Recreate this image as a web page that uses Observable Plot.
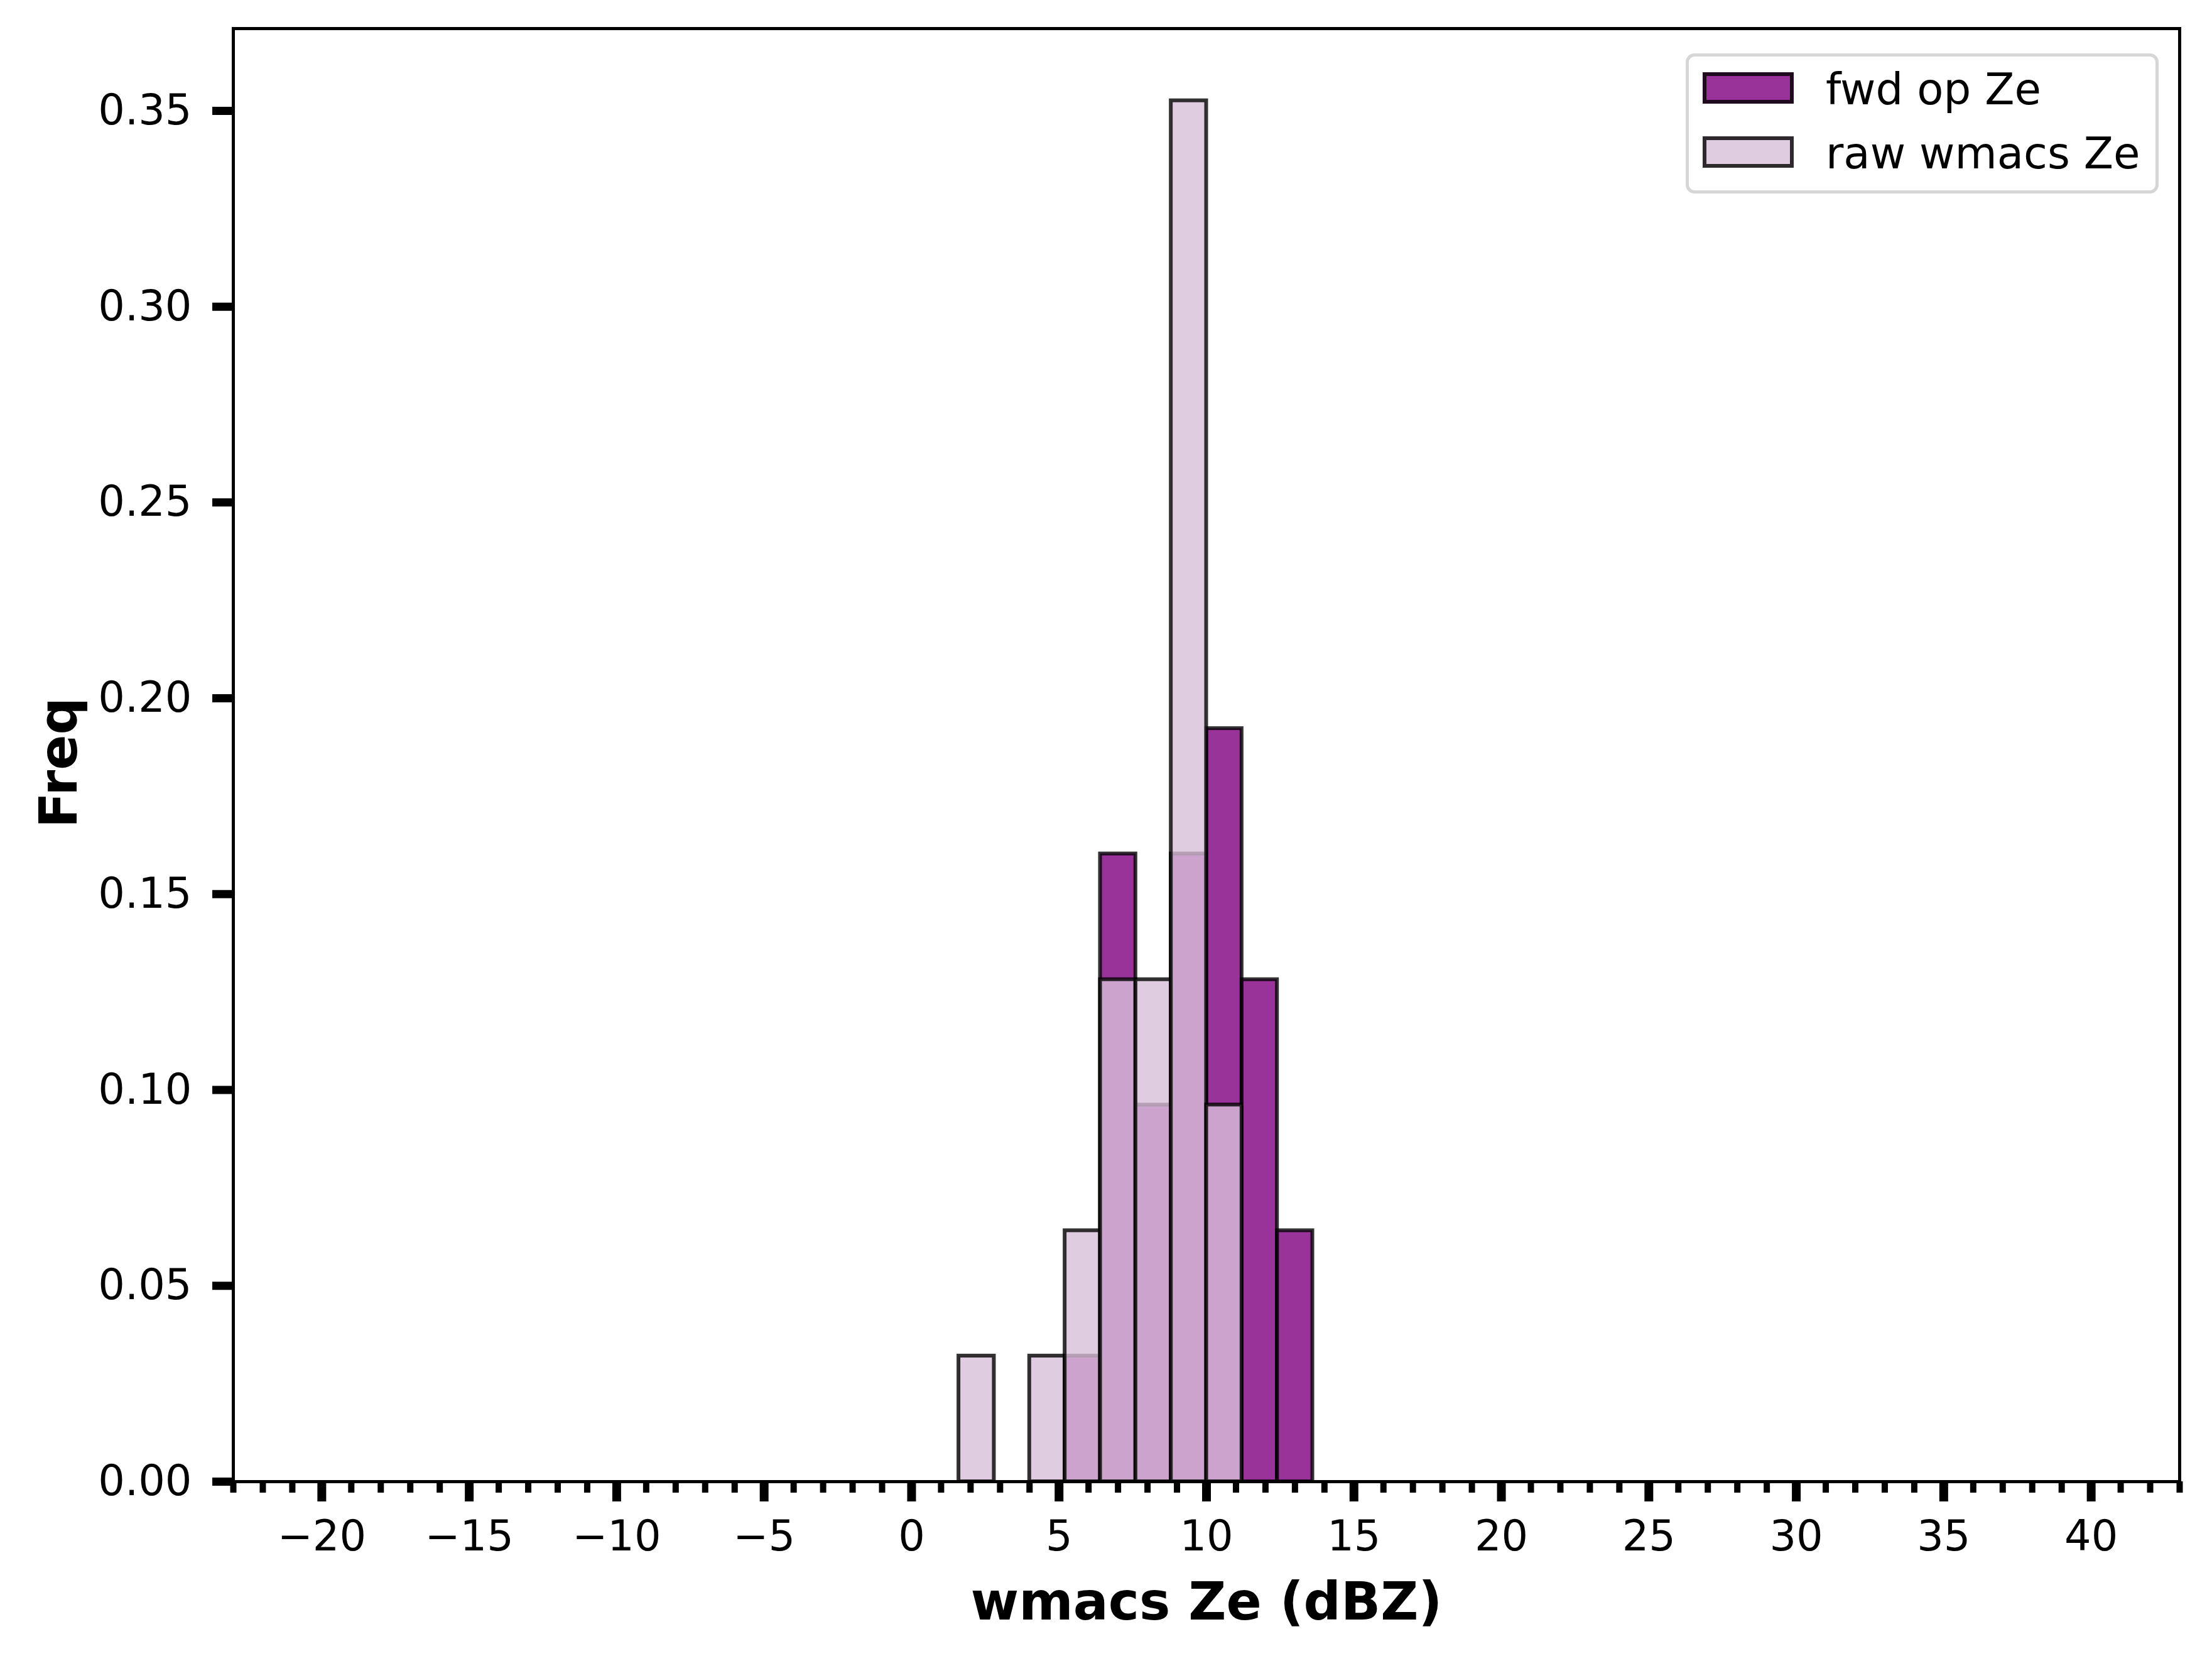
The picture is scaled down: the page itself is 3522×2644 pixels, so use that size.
<!DOCTYPE html>
<html>
<head>
<meta charset="utf-8">
<script src="https://cdn.jsdelivr.net/npm/d3@7"></script>
<script src="https://cdn.jsdelivr.net/npm/@observablehq/plot@0.6"></script>
<style>
  html, body { margin: 0; padding: 0; background: #fff; }
  #wrap { position: relative; width: 3522px; height: 2644px; font-family: "DejaVu Sans", sans-serif; }
  #legend { position: absolute; left: 2684px; top: 85px; width: 753px; height: 223px; box-sizing: border-box;
            border: 5px solid #d6d6d6; border-radius: 14px; background: rgba(255,255,255,0.8); }
  .sw { position: absolute; left: 22px; width: 145px; height: 50px; box-sizing: border-box; border: 6px solid rgba(0,0,0,0.8); }
  .lt { position: absolute; left: 218px; font-size: 69px; line-height: 80px; color: #000; white-space: nowrap; }
</style>
</head>
<body>
<div id="wrap"><div id="chart"></div><div id="legend"></div></div>
<script>
// Histogram bin edges (dBZ) and densities
const binEdges = [1.6, 2.8, 4.0, 5.2, 6.4, 7.6, 8.8, 10.0, 11.2, 12.4, 13.6];
const fwdDensity = [0, 0, 0, 0.0321, 0.1603, 0.0962, 0.1603, 0.1923, 0.1282, 0.0641];
const rawDensity = [0.0321, 0, 0.0321, 0.0641, 0.1282, 0.1282, 0.3526, 0.0962, 0, 0];
const seriesNames = ["fwd op Ze", "raw wmacs Ze"];
const seriesFill = ["purple", "thistle"];
const xMajorTicks = d3.range(-20, 41, 5);
const xMinorTicks = d3.range(-23, 44, 1);
const yTicks = [0, 0.05, 0.10, 0.15, 0.20, 0.25, 0.30, 0.35];

function bins(dens) {
  return dens.map((d, i) => ({x1: binEdges[i], x2: binEdges[i + 1], y: d})).filter(d => d.y > 0);
}

const barStyle = {stroke: "black", strokeOpacity: 0.8, strokeWidth: 6, fillOpacity: 0.8, inset: 0};

const chart = Plot.plot({
  width: 3522,
  height: 2644,
  marginLeft: 371,
  marginRight: 52,
  marginTop: 45,
  marginBottom: 286,
  style: {fontFamily: "DejaVu Sans, sans-serif", fontSize: "67px", background: "white", color: "black"},
  x: {domain: [-23, 43]},
  y: {domain: [0, 0.371]},
  marks: [
    Plot.rectY(bins(fwdDensity), {x1: "x1", x2: "x2", y: "y", fill: seriesFill[0], ...barStyle}),
    Plot.rectY(bins(rawDensity), {x1: "x1", x2: "x2", y: "y", fill: seriesFill[1], ...barStyle}),
    Plot.axisX(xMinorTicks, {tickSize: 18, strokeWidth: 10, fill: "none", label: null}),
    Plot.axisX(xMajorTicks, {tickSize: 32, tickPadding: 30, strokeWidth: 14, tickFormat: d3.format("d"), label: null, fontSize: 67}),
    Plot.axisY(yTicks, {tickSize: 33, tickPadding: 33, strokeWidth: 13, tickFormat: d3.format(".2f"), label: null, fontSize: 67}),
    Plot.frame({stroke: "black", strokeWidth: 5}),
    Plot.text(["wmacs Ze (dBZ)"], {frameAnchor: "bottom", lineAnchor: "middle", textAnchor: "middle", dy: 193, fontSize: 83, fontWeight: "bold"}),
    Plot.text(["Freq"], {frameAnchor: "left", lineAnchor: "middle", textAnchor: "middle", rotate: -90, dx: -276, dy: 12, fontSize: 83, fontWeight: "bold"})
  ]
});
document.getElementById("chart").appendChild(chart);

// Legend
const legend = document.getElementById("legend");
const fills = ["rgba(128,0,128,0.8)", "rgba(216,191,216,0.8)"];
seriesNames.forEach((name, i) => {
  const sw = document.createElement("div");
  sw.className = "sw";
  sw.style.top = (25 + i * 102) + "px";
  sw.style.background = fills[i];
  legend.appendChild(sw);
  const t = document.createElement("div");
  t.className = "lt";
  t.style.top = (12 + i * 102) + "px";
  t.textContent = name;
  legend.appendChild(t);
});
</script>
</body>
</html>
